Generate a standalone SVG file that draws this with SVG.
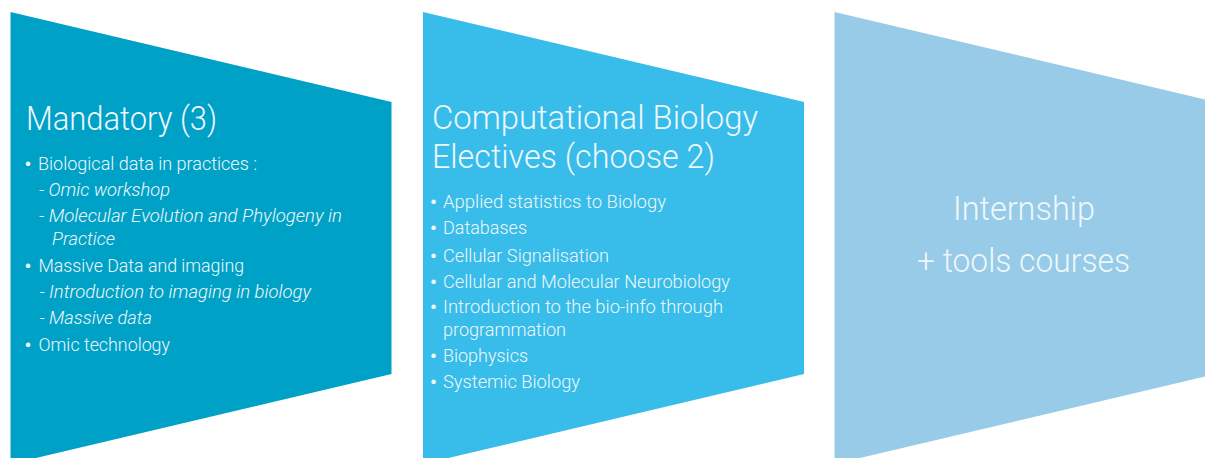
<svg xmlns="http://www.w3.org/2000/svg" width="1205" height="458" viewBox="0 0 1205 458">
<style>
text { font-family: Roboto, "Liberation Sans", sans-serif; font-weight: 300; fill: #EEF8FC; }
.title { font-size: 34px; }
.item { font-size: 17.5px; }
.sub { font-size: 17.5px; font-style: italic; }
.bul { font-size: 19px; font-weight: 700; }
.mid { text-anchor: middle; }
</style>
<rect width="1205" height="458" fill="#FFFFFF"/>
<g id="mandatory">
  <polygon points="10.5,12 391.5,102 391.5,374 10.5,464" fill="#00A1C6"/>
  <text class="title" x="26" y="130" textLength="191" lengthAdjust="spacingAndGlyphs">Mandatory (3)</text>
  <text class="bul" x="24.5" y="170.5">•</text>
  <text class="item" x="38" y="170" textLength="219" lengthAdjust="spacingAndGlyphs">Biological data in practices :</text>
  <text class="sub" x="39" y="196" textLength="131" lengthAdjust="spacingAndGlyphs">- Omic workshop</text>
  <text class="sub" x="39" y="222" textLength="303" lengthAdjust="spacingAndGlyphs">- Molecular Evolution and Phylogeny in</text>
  <text class="sub" x="52" y="245" textLength="63" lengthAdjust="spacingAndGlyphs">Practice</text>
  <text class="bul" x="24.5" y="272.5">•</text>
  <text class="item" x="38.5" y="272" textLength="205.5" lengthAdjust="spacingAndGlyphs">Massive Data and imaging</text>
  <text class="sub" x="39.5" y="298" textLength="271.5" lengthAdjust="spacingAndGlyphs">- Introduction to imaging in biology</text>
  <text class="sub" x="39.5" y="324" textLength="112.5" lengthAdjust="spacingAndGlyphs">- Massive data</text>
  <text class="bul" x="24.5" y="351.5">•</text>
  <text class="item" x="38.5" y="351" textLength="131.5" lengthAdjust="spacingAndGlyphs">Omic technology</text>
</g>
<g id="electives">
  <polygon points="423,12 804,102 804,374 423,464" fill="#38BCE9"/>
  <text class="title" x="432" y="129" textLength="326" lengthAdjust="spacingAndGlyphs">Computational Biology</text>
  <text class="title" x="432" y="168" textLength="283" lengthAdjust="spacingAndGlyphs">Electives (choose 2)</text>
  <text class="bul" x="430" y="208.5">•</text>
  <text class="item" x="443" y="208" textLength="223" lengthAdjust="spacingAndGlyphs">Applied statistics to Biology</text>
  <text class="bul" x="430" y="234.5">•</text>
  <text class="item" x="443" y="234" textLength="84" lengthAdjust="spacingAndGlyphs">Databases</text>
  <text class="bul" x="430" y="262.5">•</text>
  <text class="item" x="443" y="262" textLength="166" lengthAdjust="spacingAndGlyphs">Cellular Signalisation</text>
  <text class="bul" x="430" y="288.5">•</text>
  <text class="item" x="443" y="288" textLength="287" lengthAdjust="spacingAndGlyphs">Cellular and Molecular Neurobiology</text>
  <text class="bul" x="430" y="313.5">•</text>
  <text class="item" x="443" y="313" textLength="280" lengthAdjust="spacingAndGlyphs">Introduction to the bio-info through</text>
  <text class="item" x="443" y="336" textLength="123" lengthAdjust="spacingAndGlyphs">programmation</text>
  <text class="bul" x="430" y="362.5">•</text>
  <text class="item" x="443" y="362" textLength="85" lengthAdjust="spacingAndGlyphs">Biophysics</text>
  <text class="bul" x="430" y="388.5">•</text>
  <text class="item" x="443" y="388" textLength="137" lengthAdjust="spacingAndGlyphs">Systemic Biology</text>
</g>
<g id="internship">
  <polygon points="834.5,12 1215.5,102 1215.5,374 834.5,464" fill="#97CBE7"/>
  <text class="title mid" x="1024" y="220" textLength="142" lengthAdjust="spacingAndGlyphs">Internship</text>
  <text class="title mid" x="1023.5" y="272" textLength="213" lengthAdjust="spacingAndGlyphs">+ tools courses</text>
</g>
</svg>
